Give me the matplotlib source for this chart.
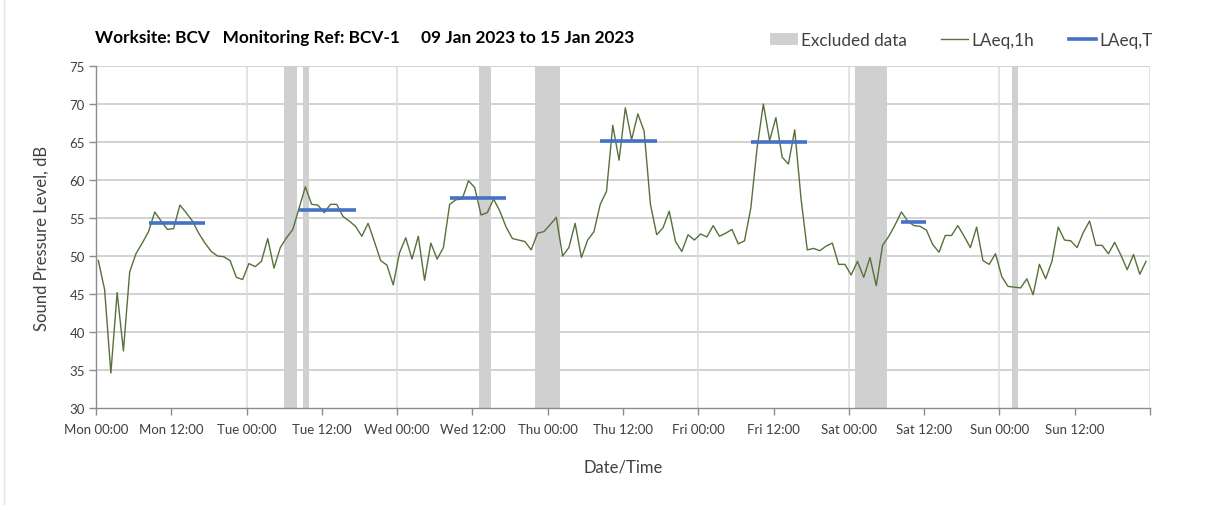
import matplotlib
matplotlib.use("Agg")
import matplotlib.pyplot as plt
from matplotlib.patches import Patch
from matplotlib.lines import Line2D
import numpy as np

plt.rcParams['font.family'] = ['Lato', 'DejaVu Sans']

# ---- data ----
laeq_1h = [
    49.4, 45.6, 34.6, 45.2, 37.5, 47.9, 50.3, 51.7, 53.2, 55.8, 54.6, 53.5,
    53.6, 56.7, 55.7, 54.6, 53.0, 51.7, 50.6, 50.0, 49.9, 49.4, 47.2, 46.9,
    49.0, 48.6, 49.3, 52.3, 48.4, 51.1, 52.4, 53.5, 56.3, 59.1, 56.8, 56.7,
    55.7, 56.8, 56.8, 55.2, 54.6, 53.9, 52.6, 54.3, 51.9, 49.4, 48.8, 46.2,
    50.4, 52.4, 49.6, 52.6, 46.8, 51.7, 49.6, 51.1, 56.8, 57.4, 57.5, 59.9,
    59.0, 55.4, 55.7, 57.5, 55.9, 53.8, 52.3, 52.1, 51.9, 50.8, 53.0, 53.2,
    54.1, 55.1, 50.0, 51.1, 54.3, 49.8, 52.1, 53.2, 56.8, 58.5, 67.2, 62.6,
    69.5, 65.3, 68.7, 66.4, 56.8, 52.8, 53.7, 55.9, 51.9, 50.6, 52.8, 52.1,
    52.9, 52.5, 54.0, 52.6, 53.0, 53.5, 51.6, 52.0, 56.3, 64.2, 70.0, 65.2,
    68.2, 63.0, 62.1, 66.6, 57.6, 50.8, 51.0, 50.7, 51.3, 51.7, 48.9, 48.9,
    47.5, 49.3, 47.2, 49.8, 46.1, 51.4, 52.6, 54.1, 55.8, 54.6, 54.0, 53.9,
    53.4, 51.5, 50.5, 52.7, 52.7, 54.0, 52.6, 51.1, 53.8, 49.4, 48.9, 50.3,
    47.3, 46.0, 45.9, 45.8, 47.0, 44.9, 48.9, 47.0, 49.3, 53.8, 52.1, 52.0,
    51.1, 53.1, 54.6, 51.4, 51.4, 50.3, 51.8, 50.1, 48.2, 50.2, 47.6, 49.3,
]
hours = np.arange(len(laeq_1h))

# LAeq,T periods (hour from Monday 00:00)
laeqT_start = [8, 32, 56, 80, 104, 128]
laeqT_end = [17, 41, 65, 89, 113, 132]
laeqT_value = [54.4, 56.1, 57.6, 65.1, 65.0, 54.5]

# excluded data periods (hour from Monday 00:00)
excl_start = [30, 33, 61, 70, 121, 146]
excl_end = [32, 34, 63, 74, 126, 147]

days = ['Mon', 'Tue', 'Wed', 'Thu', 'Fri', 'Sat', 'Sun']
tick_labels = [f"{d} {t}" for d in days for t in ("00:00", "12:00")] + [""]

title = "Worksite: BCV   Monitoring Ref: BCV-1     09 Jan 2023 to 15 Jan 2023"

# ---- styles ----
GREEN = '#56713a'
BLUE = '#4472c4'
GREY = '#d0d0d0'
SHIFT = 0.37

fig = plt.figure(figsize=(12.08, 5.06), dpi=100)
ax = fig.add_axes([96/1208, 97/506, 1054/1208, 342/506])

for s, e in zip(excl_start, excl_end):
    ax.axvspan(s, e, color=GREY, lw=0, zorder=1)

# grid
for y in range(35, 80, 5):
    ax.axhline(y, color='#c6c6c6', lw=1.1, zorder=0.5)
for d in range(24, 169, 24):
    ax.axvline(d, color='#dcdcdc', lw=1.1, zorder=0.5)

ax.plot(hours + SHIFT, laeq_1h, color=GREEN, lw=1.0, zorder=3)
for s, e, v in zip(laeqT_start, laeqT_end, laeqT_value):
    ax.plot([s + SHIFT, e + SHIFT], [v, v], color=BLUE, lw=2.6, zorder=4,
            solid_capstyle='butt')

ax.set_xlim(0, 168)
ax.set_ylim(30, 75)
ax.set_yticks(range(30, 80, 5))
ax.set_xticks(range(0, 169, 12))
ax.set_xticklabels(tick_labels)

for sp in ('top', 'right'):
    ax.spines[sp].set_visible(False)
for sp in ('left', 'bottom'):
    ax.spines[sp].set_color('#8c8c8c')
    ax.spines[sp].set_linewidth(1.0)
ax.tick_params(axis='both', colors='#8c8c8c', length=5, width=1.0,
               labelcolor='#404040', labelsize=9.5)
ax.tick_params(axis='x', pad=6)
ax.tick_params(axis='y', pad=3)

ax.set_ylabel("Sound Pressure Level, dB", fontsize=12, color='#404040',
              labelpad=14)
ax.set_xlabel("Date/Time", fontsize=12, color='#404040', labelpad=17)

fig.text(95/1208, 1 - 38/506, title, fontsize=12.4, fontweight='bold',
         color='black', va='center', ha='left')

handles = [Patch(facecolor=GREY, edgecolor='none'),
           Line2D([0], [0], color=GREEN, lw=1.0),
           Line2D([0], [0], color=BLUE, lw=2.6)]
fig.legend(handles, ["Excluded data", "LAeq,1h", "LAeq,T"], ncol=3,
           loc='center right', bbox_to_anchor=(1168/1208, 1 - 41/506),
           frameon=False, fontsize=12.3, handlelength=1.6, handletextpad=0.2,
           columnspacing=2.0, labelcolor='#404040')

fig.add_artist(Line2D([4/1208, 4/1208], [0, 1], color='#e4e4e4', lw=1,
                      transform=fig.transFigure))

fig.savefig("out.png", dpi=100)
